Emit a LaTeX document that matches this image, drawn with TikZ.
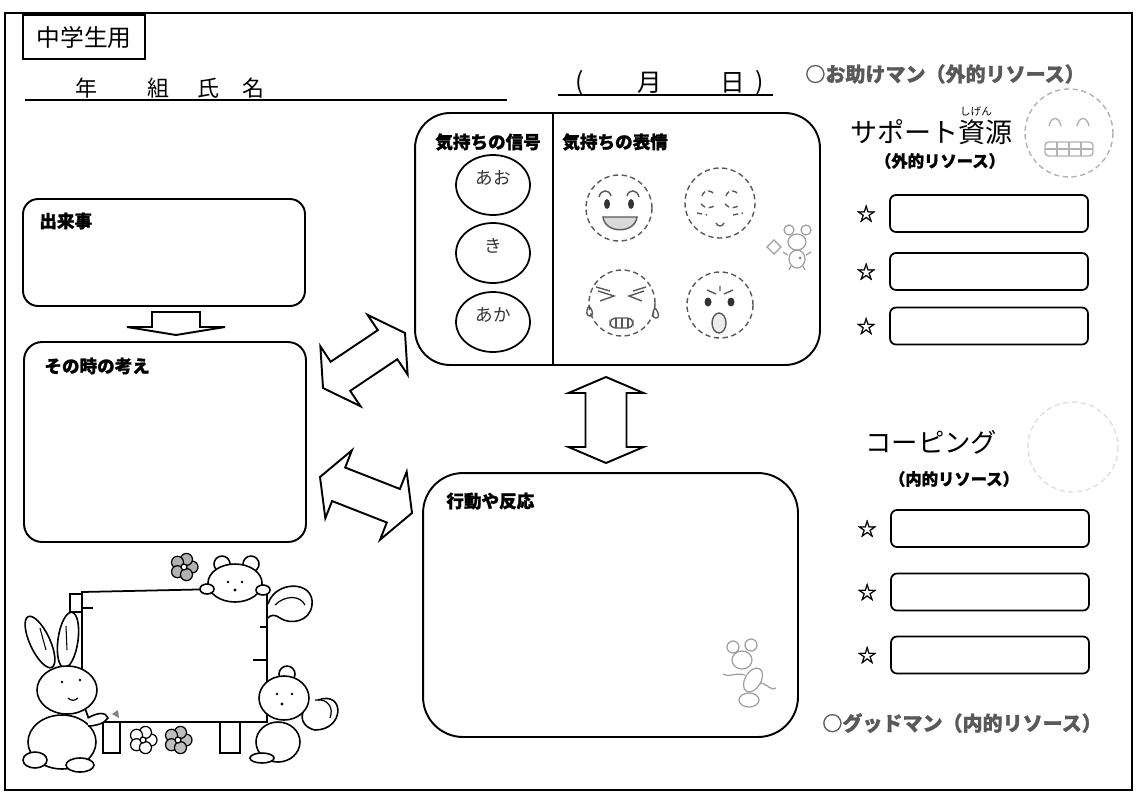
\documentclass[tikz,border=0pt]{standalone}
\usepackage{fontspec}
\newfontfamily\jp{Noto Sans CJK JP}[BoldFeatures={FakeBold=1.2}]
\usetikzlibrary{shapes.geometric,calc}

\tikzset{
  box/.style={draw, line width=1.1pt, inner sep=0pt},
  head/.style={font=\jp\bfseries\fontsize{10}{12}\selectfont, anchor=west, inner sep=0pt},
  plain/.style={font=\jp\fontsize{#1}{#1}\selectfont, inner sep=0pt},
  slot/.style={draw, line width=1pt, rounded corners=0.12cm, minimum width=3.96cm, minimum height=0.74cm},
  starmark/.style={font=\jp\bfseries\fontsize{11}{11}\selectfont, inner sep=0pt},
  signal/.style={draw, ellipse, line width=1pt, minimum width=1.48cm, minimum height=1.2cm},
  face/.style={draw=gray!70!black, densely dashed, line width=0.8pt},
  blockarrow/.style={draw, line width=1.1pt, fill=white, line join=miter},
  doodle/.style={draw=gray!75, line width=0.7pt},
  critter/.style={draw, line width=0.9pt, fill=white},
}

% double block arrow between two tips: head length, half head width, half shaft width
\newcommand\dblarrow[5]{%
  \path ($(#1)!#3!(#2)$) coordinate (h1) ($(#2)!#3!(#1)$) coordinate (h2);
  \draw[blockarrow] (#1) -- ($(h1)!#4!90:(#2)$) -- ($(h1)!#5!90:(#2)$)
    -- ($(h2)!#5!-90:(#1)$) -- ($(h2)!#4!-90:(#1)$) -- (#2)
    -- ($(h2)!#4!90:(#1)$) -- ($(h2)!#5!90:(#1)$)
    -- ($(h1)!#5!-90:(#2)$) -- ($(h1)!#4!-90:(#2)$) -- cycle;}

\begin{document}
\begin{tikzpicture}[x=0.02cm, y=-0.02cm]
  \useasboundingbox (0,0) rectangle (1136,792);
  \draw[line width=1pt] (5,13) rectangle (1132,790);

  % header
  \node[draw, line width=0.9pt, minimum width=2.44cm, minimum height=0.88cm, plain=13.5] (use) at (84,37) {中学生用};
  \draw[line width=1pt] (25,100) -- (507,100);
  \node[plain=12.5] (year) at (86,88) {年};
  \node[plain=12.5] (class) at (158,88) {組};
  \node[plain=12.5] (sei) at (208,88) {氏};
  \node[plain=12.5] (mei) at (253,88) {名};
  \draw[line width=1pt] (558,95) -- (773,95);
  \node[plain=14] (lpar) at (580,83) {(};
  \node[plain=14] (month) at (650,83) {月};
  \node[plain=14] (day) at (733,83) {日};
  \node[plain=14] (rpar) at (760,83) {)};

  % left column
  \node[box, rounded corners=0.3cm, minimum width=5.64cm, minimum height=2.14cm] (event) at (164,252.5) {};
  \node[head] (eventt) at ([shift={(17,23)}]event.north west) {出来事};
  \node[box, rounded corners=0.36cm, minimum width=5.64cm, minimum height=4cm] (thought) at (165,442) {};
  \node[head] (thoughtt) at ([shift={(21,25)}]thought.north west) {その時の考え};
  \draw[blockarrow] (152,312) -- (200,312) -- (200,327) -- (225,327) -- (176,335)
    -- (127,327) -- (152,327) -- cycle;

  % feelings
  \node[box, rounded corners=0.7cm, minimum width=8.1cm, minimum height=5.04cm] (feel) at (617.5,239) {};
  \draw[line width=1pt] (553,113) -- (553,365);
  \node[head] (sigt) at (435,142) {気持ちの信号};
  \node[head] (facet) at (562,142) {気持ちの表情};
  \foreach \n/\y/\t in {blue/185/あお, yellow/253/き, red/322/あか} {
    \node[signal] (\n) at (493,\y) {};
    \node[plain=10, text=black!80] (\n t) at ([yshift=0.15cm]\n.center) {\t};
  }

  % happy
  \draw[face] (619,208) circle (33);
  \draw[face, solid] (599,197) .. controls (601,189) and (609,189) .. (611,196);
  \draw[face, solid] (627,196) .. controls (629,189) and (637,189) .. (639,197);
  \fill[black!80] (607,204) ellipse (3 and 5) (631,204) ellipse (3 and 5);
  \draw[face, solid, fill=gray!30] (603,217) -- (637,217) .. controls (635,234) and (605,234) .. (603,217) -- cycle;
  % calm
  \draw[face] (720,203) circle (35);
  \draw[face] (702,196) .. controls (704,189) and (712,189) .. (715,196);
  \draw[face] (726,196) .. controls (728,189) and (736,189) .. (739,196);
  \draw[face] (701,204) .. controls (705,209) and (712,209) .. (716,204);
  \draw[face] (725,204) .. controls (729,209) and (736,209) .. (740,204);
  \draw[face] (697,213) -- (707,215) (733,215) -- (743,213);
  \draw[face, solid] (716,223) .. controls (718,227) and (722,227) .. (724,223);
  % crying
  \draw[face] (622,303) circle (33);
  \draw[face, solid] (598,291) -- (614,296) -- (600,301);
  \draw[face, solid] (644,291) -- (629,296) -- (642,301);
  \draw[face, solid] (596,287) -- (610,291) (646,287) -- (633,291);
  \draw[face, solid] (589,306) .. controls (585,312) and (587,316) .. (590,316) .. controls (593,316) and (594,312) .. (589,306);
  \draw[face, solid] (655,308) .. controls (651,314) and (653,318) .. (656,318) .. controls (659,318) and (660,314) .. (655,308);
  \draw[face, solid, rounded corners=3pt] (610,318) rectangle (633,328);
  \draw[face, solid] (616,318) -- (616,328) (622,318) -- (622,328) (628,318) -- (628,328);
  % surprised
  \draw[face] (720,305) circle (33);
  \draw[face, solid] (707,290) -- (716,294) (733,290) -- (724,294) (720,286) -- (720,291);
  \fill[black!80] (708,302) ellipse (3.5 and 4.5) (731,302) ellipse (3.5 and 4.5);
  \draw[face, solid, fill=gray!15] (719,323) ellipse (7 and 10);
  % mouse with a box
  \draw[doodle] (774,240) -- (781,247) -- (774,254) -- (767,247) -- cycle;
  \draw[doodle, fill=white] (789,230) circle (5) (806,230) circle (5);
  \draw[doodle, fill=white] (797,242) ellipse (9 and 8);
  \draw[doodle, fill=white] (797,259) ellipse (8 and 9);
  \draw[doodle] (791,266) -- (789,270) (803,266) -- (805,270) (788,255) -- (783,252) (806,255) -- (811,252);
  \fill[gray] (800,258) circle (1.5);

  % behaviour
  \node[box, rounded corners=0.8cm, minimum width=7.5cm, minimum height=5.28cm] (act) at (610.5,605) {};
  \node[head] (actt) at ([shift={(24,29)}]act.north west) {行動や反応};
  % running mouse
  \draw[doodle] (745,675) .. controls (735,672) and (728,678) .. (723,674);
  \draw[doodle] (758,682) .. controls (768,684) and (772,692) .. (776,688);
  \draw[doodle, fill=white] (733,647) circle (6) (751,645) circle (6);
  \draw[doodle, fill=white, rotate around={-30:(753,680)}] (753,680) ellipse (8 and 13);
  \draw[doodle, fill=white] (742,660) ellipse (10 and 9);
  \draw[doodle, fill=white] (749,700) ellipse (10 and 7);

  % block arrows between boxes
  \coordinate (ta) at (323,388);
  \coordinate (tb) at (405,333);
  \coordinate (la) at (320,477);
  \coordinate (lb) at (412,513);
  \coordinate (va) at (606,377);
  \coordinate (vb) at (606,463);
  \dblarrow{ta}{tb}{0.42cm}{0.72cm}{0.35cm}
  \dblarrow{la}{lb}{0.4cm}{0.73cm}{0.36cm}
  \dblarrow{va}{vb}{0.32cm}{0.75cm}{0.41cm}

  % resources (outside)
  \node[font=\jp\bfseries\fontsize{11.4}{12}\selectfont, text=black!65, anchor=west, inner sep=0pt] (helper) at (805,74) {○お助けマン（外的リソース）};
  \node[plain=15.4, anchor=west] (support) at (850,132) {サポート資源};
  \node[plain=6] (kana) at (976,112) {しげん};
  \node[font=\jp\bfseries\fontsize{9.3}{10}\selectfont, inner sep=0pt] (outer) at (940,161) {（外的リソース）};
  \draw[draw=gray!60, densely dashed, line width=0.8pt] (1069,133) circle (44);
  \draw[gray!60, line width=0.8pt] (1049,126) .. controls (1051,116) and (1059,116) .. (1061,126);
  \draw[gray!60, line width=0.8pt] (1077,126) .. controls (1079,116) and (1087,116) .. (1089,126);
  \draw[gray!60, line width=0.8pt, rounded corners=2pt] (1045,142) rectangle (1093,156);
  \draw[gray!60, line width=0.6pt] (1045,149) -- (1093,149) (1057,142) -- (1057,156) (1069,142) -- (1069,156) (1081,142) -- (1081,156);
  \foreach \n/\y in {1/213.5, 2/271.5, 3/326} {
    \node[slot] (out\n) at (989,\y) {};
    \node[starmark] (sout\n) at ([xshift=-0.46cm]out\n.west) {☆};
  }

  % resources (inside)
  \node[plain=15, anchor=west] (coping) at (865,442) {コーピング};
  \node[font=\jp\bfseries\fontsize{9.3}{10}\selectfont, inner sep=0pt] (inner) at (954,479) {（内的リソース）};
  \draw[draw=gray!25, densely dashed, line width=0.8pt] (1073,447) circle (45);
  \foreach \n/\y in {1/528.5, 2/592, 3/655} {
    \node[slot] (in\n) at (990,\y) {};
    \node[starmark] (sin\n) at ([xshift=-0.46cm]in\n.west) {☆};
  }
  \node[font=\jp\bfseries\fontsize{11.4}{12}\selectfont, text=black!65, anchor=west, inner sep=0pt] (good) at (822,723) {○グッドマン（内的リソース）};

  % signboard with animals
  \draw[line width=1pt, fill=white] (82,592) -- (267,588) -- (267,722) -- (90,722) -- (82,700) -- cycle;
  \draw[line width=1pt, fill=white] (70,594) rectangle (82,612);
  \draw[line width=0.8pt] (82,608) -- (93,608) (260,627) -- (267,627) (253,660) -- (267,660);
  \draw[line width=1pt] (103,722) rectangle (120,753) (220,722) rectangle (240,753);
  % bear on top
  \draw[critter] (222,564) circle (8) (251,564) circle (8);
  \draw[critter] (235,583) ellipse (27 and 19);
  \draw[critter] (207,589) ellipse (7 and 5) (263,590) ellipse (7 and 5);
  \fill (228,582) circle (1.3) (242,582) circle (1.3) (235,590) circle (1.6);
  % squirrel tail
  \draw[critter] (268,604) .. controls (275,580) and (315,580) .. (312,605)
    .. controls (310,622) and (290,625) .. (280,618) .. controls (275,614) and (270,615) .. (268,618);
  \draw[line width=0.7pt] (275,605) .. controls (285,595) and (300,595) .. (305,605);
  % bunny
  \draw[critter, rotate around={25:(40,642)}] (40,642) ellipse (10 and 28);
  \draw[critter, rotate around={-8:(68,640)}] (68,640) ellipse (10 and 28);
  \draw[line width=0.6pt] (40,628) -- (46,650) (66,626) -- (67,650);
  \draw[critter] (62,742) ellipse (34 and 27);
  \draw[critter] (67,690) ellipse (30 and 24);
  \draw[critter] (35,760) ellipse (12 and 8) (80,765) ellipse (14 and 7);
  \draw[critter] (88,718) .. controls (98,712) and (106,712) .. (108,718) .. controls (104,724) and (95,726) .. (88,726);
  \fill (62,682) circle (1.3) (80,680) circle (1.3);
  \draw[line width=0.7pt] (68,698) .. controls (71,701) and (75,701) .. (78,698);
  \fill[gray] (112,714) -- (118,710) -- (119,718) -- cycle;
  % squirrel below
  \draw[critter] (318,700) .. controls (345,690) and (345,730) .. (315,730) .. controls (305,728) and (300,720) .. (303,712);
  \draw[line width=0.7pt] (315,700) .. controls (328,698) and (334,708) .. (330,718);
  \draw[critter] (278,742) ellipse (22 and 20);
  \draw[critter] (287,674) circle (8);
  \draw[critter] (284,698) ellipse (25 and 22);
  \draw[critter] (262,758) ellipse (12 and 5);
  \fill (277,694) circle (1.3) (292,694) circle (1.3) (282,704) circle (1.6);
  % flowers
  \foreach \fx/\fy/\fc in {184/567/gray!60, 143/740/white, 178/740/gray!50} {
    \foreach \a in {0,72,...,288}
      \draw[line width=0.7pt, fill=\fc] ($(\fx,\fy)+(\a:0.16cm)$) circle (6);
    \draw[line width=0.7pt, fill=white] (\fx,\fy) circle (3);
  }
\end{tikzpicture}
\end{document}
